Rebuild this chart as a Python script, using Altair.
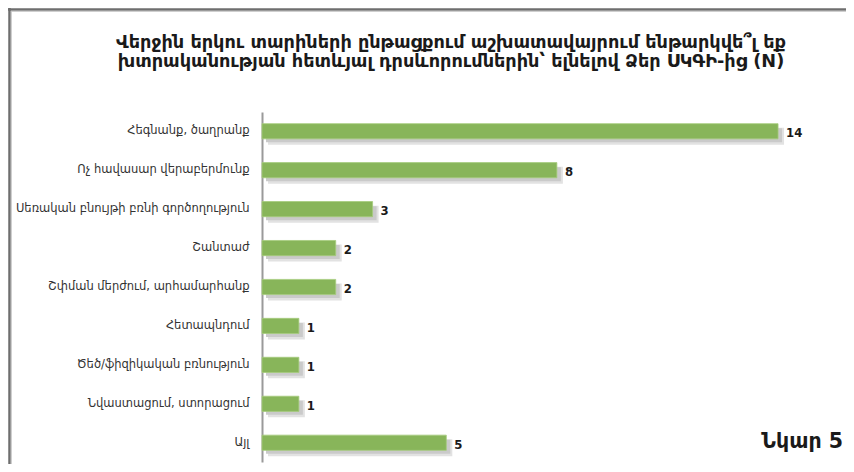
import altair as alt
import pandas as pd

categories = [
    "Հեգնանք, ծաղրանք",
    "Ոչ հավասար վերաբերմունք",
    "Սեռական բնույթի բռնի գործողություն",
    "Շանտաժ",
    "Շփման մերժում, արհամարհանք",
    "Հետապնդում",
    "Ծեծ/ֆիզիկական բռնություն",
    "Նվաստացում, ստորացում",
    "Այլ",
]
values = [14, 8, 3, 2, 2, 1, 1, 1, 5]
title_lines = [
    "Վերջին երկու տարիների ընթացքում աշխատավայրում ենթարկվե՞լ եք",
    "խտրականության հետևյալ դրսևորումներին՝ ելնելով Ձեր ՍԿԳԻ-ից (N)",
]
figure_label = "Նկար 5"

df = pd.DataFrame({"category": categories, "value": values})

W, H = 540, 350
LEFT, TOP = 254, 104

xscale = alt.Scale(domain=[0, 14.65], nice=False, zero=True)
yscale = alt.Scale(paddingInner=0.61, paddingOuter=0.3)

x_enc = alt.X("value:Q", scale=xscale, axis=None)
y_enc = alt.Y(
    "category:N",
    sort=categories,
    scale=yscale,
    axis=alt.Axis(
        title=None,
        ticks=False,
        labelPadding=13,
        labelFontSize=11.5,
        labelColor="#333333",
        labelFont="DejaVu Sans",
        domainColor="#9a9a9a",
        domainWidth=2,
        grid=False,
        labelLimit=300,
    ),
)

base = alt.Chart(df)

shadow2 = base.mark_bar(color="#e2e2e2", yOffset=5, xOffset=6, x2Offset=8, height=17).encode(x=x_enc, y=y_enc)
shadow = base.mark_bar(color="#cacaca", yOffset=4, xOffset=4, x2Offset=7, height=14).encode(x=x_enc, y=y_enc)
bars = base.mark_bar(color="#88b55a", stroke="#a6cc7c", strokeWidth=0.8).encode(x=x_enc, y=y_enc)
labels = base.mark_text(
    align="left", baseline="middle", dx=8, dy=2, fontSize=13, fontWeight="bold",
    font="DejaVu Sans Condensed", color="#1a1a1a",
).encode(x=x_enc, y=y_enc, text="value:Q")

title_df = pd.DataFrame({"line": title_lines, "row": [0, 1]})
title_y = [43 - 112, 62 - 112]
title_layers = [
    alt.Chart(title_df).transform_filter(alt.datum.row == i).mark_text(
        align="center", baseline="middle", fontSize=17.7, fontWeight="bold",
        font="DejaVu Sans", color="#1a1a1a",
    ).encode(x=alt.value(451 - 262), y=alt.value(title_y[i]), text="line:N")
    for i in range(2)
]

fig = alt.Chart(pd.DataFrame({"t": [figure_label]})).mark_text(
    align="right", baseline="middle", fontSize=20.5, fontWeight="bold",
    font="DejaVu Sans", color="#1a1a1a",
).encode(x=alt.value(843 - 262), y=alt.value(442 - 112), text="t:N")

frame_data = alt.Data(values=[{"a": 1}])
frame_left = alt.Chart(frame_data).mark_rule(color="#6e6e6e", strokeWidth=2.5).encode(
    x=alt.value(-LEFT + 1.5), y=alt.value(-TOP), y2=alt.value(H + 2)
)
frame_left_in = alt.Chart(frame_data).mark_rule(color="#c4c4c4", strokeWidth=1).encode(
    x=alt.value(-LEFT + 3.3), y=alt.value(-TOP + 3), y2=alt.value(H + 2)
)
frame_top = alt.Chart(frame_data).mark_rule(color="#6e6e6e", strokeWidth=2.5).encode(
    x=alt.value(-LEFT), x2=alt.value(W + 44), y=alt.value(-TOP + 1.5)
)
frame_top_in = alt.Chart(frame_data).mark_rule(color="#c4c4c4", strokeWidth=1).encode(
    x=alt.value(-LEFT + 3), x2=alt.value(W + 44), y=alt.value(-TOP + 3.3)
)

chart = alt.layer(
    frame_left, frame_left_in, frame_top, frame_top_in,
    shadow2, shadow, bars, labels, *title_layers, fig,
).properties(
    width=W,
    height=H,
    autosize=alt.AutoSizeParams(type="none"),
    padding={"left": LEFT, "top": TOP, "right": 44, "bottom": 2},
    background="white",
).configure_view(stroke=None)

chart.save("out.html", embed_options={"renderer": "svg", "actions": False})
